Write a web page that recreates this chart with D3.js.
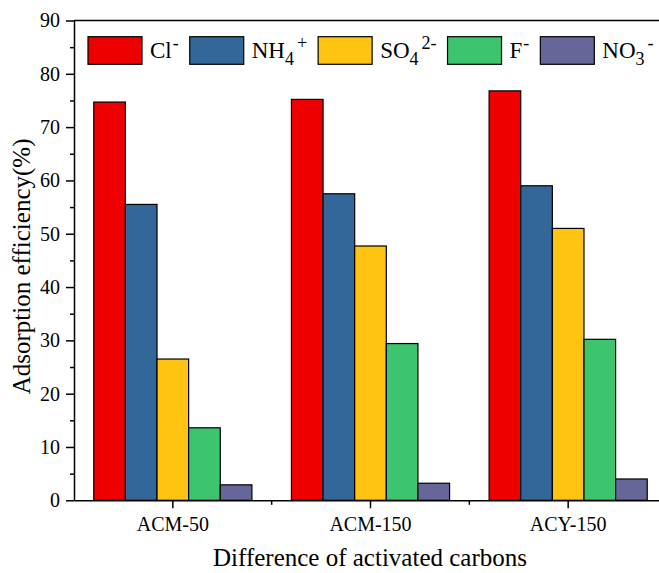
<!DOCTYPE html>
<html>
<head>
<meta charset="utf-8">
<script src="https://cdn.jsdelivr.net/npm/d3@7"></script>
<style>
  html, body { margin: 0; padding: 0; background: #fff; }
  svg { display: block; }
</style>
</head>
<body>
<svg id="chart" width="659" height="573"></svg>
<script>
// ---- data ----
const groups = ["ACM-50", "ACM-150", "ACY-150"];
const seriesNames = ["Cl-", "NH4+", "SO42-", "F-", "NO3-"];
const seriesLabels = [
  { base: "Cl", sub: "", sup: "-" },
  { base: "NH", sub: "4", sup: "+" },
  { base: "SO", sub: "4", sup: "2-" },
  { base: "F", sub: "", sup: "-" },
  { base: "NO", sub: "3", sup: "-" }
];
const clValues   = [74.7, 75.2, 76.8];
const nh4Values  = [55.5, 57.5, 59.0];
const so4Values  = [26.5, 47.7, 51.0];
const fValues    = [13.6, 29.4, 30.2];
const no3Values  = [2.9, 3.2, 4.0];
const seriesValues = [clValues, nh4Values, so4Values, fValues, no3Values];
const yMajorTicks = [0, 10, 20, 30, 40, 50, 60, 70, 80, 90];
const yMinorTicks = [5, 15, 25, 35, 45, 55, 65, 75, 85];
const xTitle = "Difference of activated carbons";
const yTitle = "Adsorption efficiency(%)";

// ---- styles ----
const colors = ["#EE0000", "#336699", "#FFC312", "#3CC46F", "#666699"];
const serif = "'Liberation Serif', 'Times New Roman', Times, serif";

(function () {
const svg = d3.select("#chart");
svg.append("rect").attr("width", 659).attr("height", 573).attr("fill", "#fff");

const mLeft = 74, mTop = 20.5, mBottom = 500.3, mRight = 667;

const y = d3.scaleLinear().domain([0, 90]).range([mBottom, mTop]);
const x0 = d3.scaleBand().domain(groups).range([mLeft, mRight])
  .paddingInner(0.2).paddingOuter(0.1);
const x1 = d3.scaleBand().domain(seriesNames).range([0, x0.bandwidth()]).padding(0);

// bars
const gBars = svg.append("g");
groups.forEach((g, gi) => {
  gBars.append("g")
    .attr("transform", `translate(${x0(g)},0)`)
    .selectAll("rect")
    .data(seriesNames.map((s, si) => ({ s, si, v: seriesValues[si][gi] })))
    .join("rect")
    .attr("x", d => x1(d.s))
    .attr("y", d => y(d.v))
    .attr("width", x1.bandwidth())
    .attr("height", d => y(0) - y(d.v))
    .attr("fill", d => colors[d.si])
    .attr("stroke", "#000")
    .attr("stroke-width", 1.2);
});

// frame top line
svg.append("line").attr("x1", mLeft).attr("x2", 659).attr("y1", mTop).attr("y2", mTop)
  .attr("stroke", "#000").attr("stroke-width", 1.5);

// y axis
svg.append("g").attr("transform", `translate(${mLeft},0)`)
  .call(d3.axisLeft(y).tickValues(yMajorTicks).tickSize(8).tickPadding(6).tickSizeOuter(0));
svg.append("g").attr("transform", `translate(${mLeft},0)`)
  .call(d3.axisLeft(y).tickValues(yMinorTicks).tickSize(4).tickFormat("").tickSizeOuter(0))
  .select(".domain").remove();

// x axis
svg.append("g").attr("transform", `translate(0,${mBottom})`)
  .call(d3.axisBottom(x0).tickSize(8).tickPadding(9).tickSizeOuter(0));
const boundaries = groups.slice(1).map(g => x0(g) - x0.step() * x0.paddingInner() / 2);
svg.append("g").selectAll("line").data(boundaries).join("line")
  .attr("x1", d => d).attr("x2", d => d)
  .attr("y1", mBottom).attr("y2", mBottom + 4.5)
  .attr("stroke", "#000").attr("stroke-width", 1.5);

svg.selectAll(".domain, .tick line").attr("stroke", "#000").attr("stroke-width", 1.5);
svg.selectAll(".tick text").attr("font-size", 20).attr("fill", "#000")
  .style("font-family", serif);

// axis titles
svg.append("text").attr("x", 370).attr("y", 566)
  .attr("text-anchor", "middle").attr("font-size", 25).style("font-family", serif)
  .attr("fill", "#000").text(xTitle);
svg.append("text").attr("transform", `translate(30,${(mTop + mBottom) / 2 + 6}) rotate(-90)`)
  .attr("text-anchor", "middle").attr("font-size", 25).style("font-family", serif)
  .attr("fill", "#000").text(yTitle);

// legend
const legend = svg.append("g");
let lx = 88;
const swW = 54, swH = 27.6, swY = 36.7, baseY = 58;
seriesLabels.forEach((lab, i) => {
  legend.append("rect").attr("x", lx).attr("y", swY).attr("width", swW).attr("height", swH)
    .attr("fill", colors[i]).attr("stroke", "#000").attr("stroke-width", 1.2);
  const tx = lx + swW + 8;
  const t = legend.append("text").attr("x", tx).attr("y", baseY)
    .attr("font-size", 23).style("font-family", serif).attr("fill", "#000");
  t.append("tspan").text(lab.base);
  if (lab.sub) {
    t.append("tspan").attr("font-size", 18).attr("dy", 7).text(lab.sub);
    t.append("tspan").attr("font-size", 18).attr("dy", -16).attr("dx", 3).text(lab.sup);
  } else {
    t.append("tspan").attr("font-size", 18).attr("dy", -9).attr("dx", 1).text(lab.sup);
  }
  const bb = t.node().getBBox();
  lx = bb.x + bb.width + 11;
});
})();
</script>
</body>
</html>
